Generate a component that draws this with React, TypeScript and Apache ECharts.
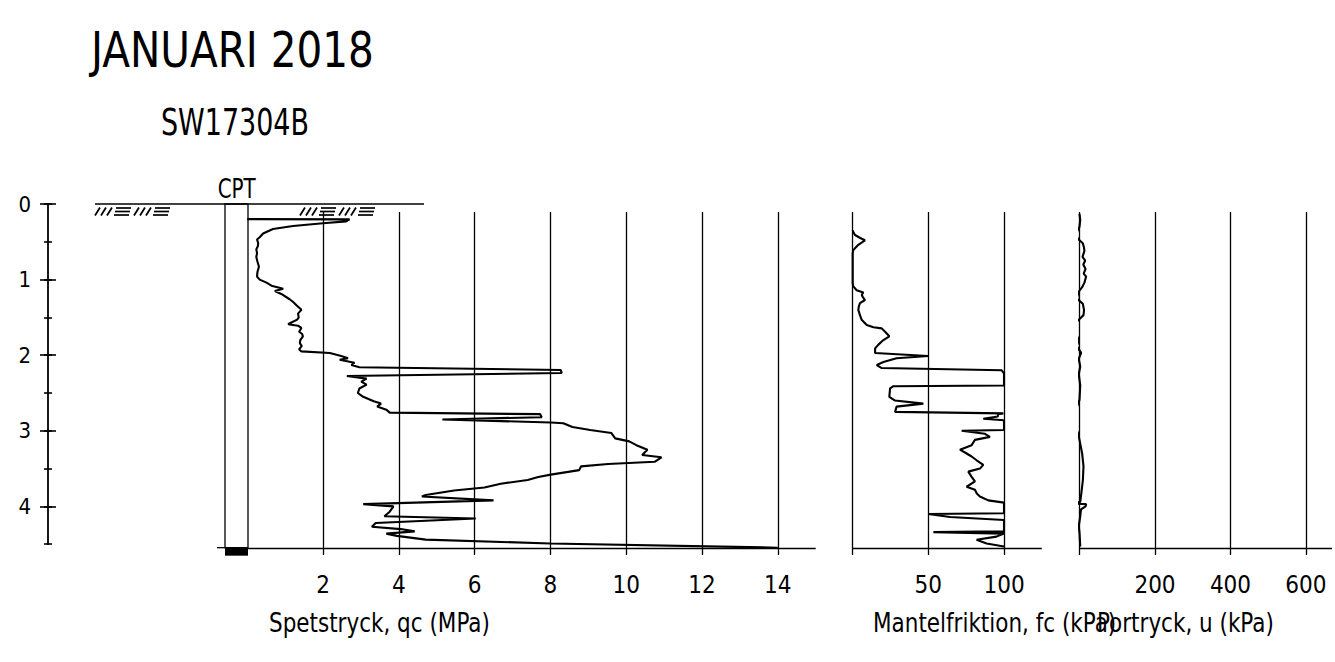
import React, { useEffect, useRef } from 'react';
import * as echarts from 'echarts';

const FONT = '"DejaVu Sans Condensed", "DejaVu Sans", sans-serif';

// ---- texts ----
const TITLE = 'JANUARI 2018';
const SUBTITLE = 'SW17304B';
const ROD_LABEL = 'CPT';
const QC_NAME = 'Spetstryck, qc (MPa)';
const FC_NAME = 'Mantelfriktion, fc (kPa)';
const U_NAME = 'Portryck, u (kPa)';

// ---- ticks / grid lines ----
const DEPTH_LABELS = [0, 1, 2, 3, 4];
const QC_TICKS = [2, 4, 6, 8, 10, 12, 14];
const FC_TICKS = [50, 100];
const U_TICKS = [200, 400, 600];
const QC_GRIDLINES = [2, 4, 6, 8, 10, 12, 14];
const FC_GRIDLINES = [0, 50, 100];
const U_GRIDLINES = [0, 200, 400, 600];

const END_DEPTH = 4.546;

// ---- data: [depth (m), value] ----
const qcProfile: [number, number][] = [
  [0.2, 0], [0.203, 2.7], [0.23, 2.61], [0.255, 2.0], [0.29, 1.21], [0.33, 0.68], [0.39, 0.42],
  [0.44, 0.33], [0.47, 0.26], [0.52, 0.29], [0.56, 0.28], [0.6, 0.24], [0.65, 0.26], [0.7, 0.24],
  [0.76, 0.27], [0.83, 0.31], [0.9, 0.27], [0.96, 0.26], [1.0, 0.33], [1.04, 0.51], [1.08, 0.64],
  [1.12, 0.95], [1.15, 0.73], [1.19, 0.9], [1.26, 1.12], [1.3, 1.22], [1.34, 1.3], [1.4, 1.43],
  [1.45, 1.34], [1.5, 1.36], [1.53, 1.32], [1.57, 1.15], [1.59, 1.08], [1.61, 1.34], [1.64, 1.43],
  [1.69, 1.37], [1.72, 1.45], [1.75, 1.47], [1.8, 1.4], [1.84, 1.39], [1.88, 1.44], [1.92, 1.37],
  [1.95, 1.43], [1.97, 2.18], [2.01, 2.48], [2.04, 2.66], [2.06, 2.44], [2.1, 2.83], [2.13, 2.75],
  [2.16, 2.96], [2.195, 8.27], [2.235, 8.3], [2.275, 2.63], [2.31, 3.15], [2.35, 3.01], [2.39, 3.15],
  [2.44, 2.96], [2.5, 2.92], [2.55, 3.06], [2.61, 3.34], [2.64, 3.53], [2.68, 3.43], [2.72, 3.67],
  [2.76, 3.76], [2.78, 7.73], [2.82, 7.77], [2.85, 5.15], [2.89, 8.01], [2.9, 8.34], [2.95, 8.58],
  [2.99, 9.05], [3.03, 9.61], [3.1, 9.71], [3.14, 10.08], [3.19, 10.27], [3.25, 10.56], [3.32, 10.42],
  [3.35, 10.93], [3.41, 10.75], [3.44, 9.52], [3.47, 8.81], [3.52, 8.76], [3.58, 8.01], [3.61, 7.68],
  [3.65, 7.4], [3.7, 6.69], [3.75, 6.26], [3.79, 5.46], [3.85, 4.71], [3.87, 4.61], [3.92, 6.5],
  [3.97, 3.06], [4.0, 3.86], [4.07, 3.76], [4.13, 3.62], [4.16, 6.03], [4.22, 3.39], [4.27, 3.29],
  [4.3, 4.05], [4.33, 4.42], [4.36, 3.67], [4.39, 3.95], [4.44, 4.71], [4.49, 8.0], [4.546, 14.0],
];

const fcProfile: [number, number][] = [
  [0.35, 0], [0.37, 0.4], [0.41, 1.5], [0.45, 5], [0.48, 8.1], [0.54, 3.7], [0.61, 0.4], [0.65, 0],
  [1.05, 0], [1.09, 0.4], [1.14, 2.6], [1.17, 7.0], [1.2, 6.0], [1.23, 6.6], [1.27, 8.1], [1.31, 4.8],
  [1.36, 4.0], [1.4, 3.7], [1.47, 4.8], [1.53, 5.9], [1.6, 9.3], [1.63, 13.7], [1.645, 19.2],
  [1.69, 21.4], [1.75, 24.2], [1.8, 20.3], [1.86, 17.0], [1.91, 14.8], [1.97, 14.8], [2.01, 50],
  [2.04, 29], [2.09, 20.3], [2.13, 15.9], [2.17, 19.2], [2.2, 98.5], [2.24, 100], [2.4, 100],
  [2.41, 26.9], [2.44, 24.7], [2.55, 24.2], [2.6, 28], [2.64, 46.7], [2.68, 29], [2.75, 28],
  [2.77, 99.6], [2.78, 96], [2.81, 96], [2.84, 86.3], [2.86, 100], [2.99, 100], [3.0, 72],
  [3.04, 87.4], [3.08, 90.7], [3.12, 80.8], [3.19, 78.6], [3.25, 70.9], [3.3, 75.3], [3.34, 78.6],
  [3.39, 81.9], [3.45, 86.3], [3.5, 84.1], [3.54, 76.4], [3.61, 78.6], [3.67, 80.8], [3.74, 75.3],
  [3.78, 80.8], [3.83, 82], [3.87, 84.1], [3.92, 89.6], [3.95, 100], [4.09, 100], [4.1, 50],
  [4.14, 64.3], [4.18, 100], [4.33, 100], [4.34, 53.3], [4.36, 100], [4.4, 95], [4.44, 81.9],
  [4.49, 88.5], [4.53, 100],
];

const uProfile: [number, number][] = [
  [0.13, 0], [0.21, 2], [0.3, 0], [0.37, -7], [0.43, -9], [0.48, 0], [0.52, 8.8], [0.58, 12],
  [0.62, 13], [0.7, 8], [0.75, 15], [0.8, 10], [0.86, 16], [0.92, 11], [0.96, 17.6], [1.04, 13],
  [1.1, 7], [1.16, -2], [1.25, -7], [1.32, 8.8], [1.4, 12], [1.47, 10.6], [1.53, -2], [1.6, -16],
  [1.64, -19], [1.71, -9], [1.8, -2], [1.88, -7], [1.97, 4.4], [2.05, -2], [2.15, 2], [2.25, -2],
  [2.4, 2], [2.59, 0], [2.7, -8], [2.77, -26], [2.79, -31], [2.84, -17.6], [2.95, -10.6],
  [3.03, -4], [3.12, 0], [3.3, 7], [3.47, 10.6], [3.65, 9], [3.82, 5], [3.94, 2], [3.96, -26],
  [3.97, 17.6], [4.0, 16], [4.04, 4], [4.13, 2], [4.26, -2], [4.35, 0], [4.53, 2],
];

// ---- layout ----
const Y0 = 204;
const PXM = 75.6;
const PANEL_TOP = 212;
const PANEL_BOTTOM = 555;
const QC_LEFT = 247.2, QC_PX = 37.9, QC_MAX = 15;
const FC_LEFT = 852.7, FC_PX = 1.513, FC_MAX = 125;
const U_LEFT = 1079.5, U_PX = 0.3817, U_MAX = 669;
const AXIS_X = 48;
const ROD_L = 225, ROD_R = 248;

function measure(text: string, size: number) {
  const ctx = document.createElement('canvas').getContext('2d');
  if (!ctx) return text.length * size * 0.5;
  ctx.font = `${size}px ${FONT}`;
  return ctx.measureText(text).width;
}

function fitText(text: string, left: number, cy: number, size: number, scale: number) {
  return {
    type: 'text', x: left, y: cy, scaleX: scale, z: 10,
    style: {
      text, x: 0, y: 0, fontSize: size, fontFamily: FONT, fill: '#000',
      textAlign: 'left', textVerticalAlign: 'middle', align: 'left', verticalAlign: 'middle',
    },
  };
}

function hatch(x0: number) {
  const els: any[] = [];
  const yb = 215.5, yt = 207.5;
  const st = { stroke: '#000', lineWidth: 1.7 };
  [0, 39].forEach((g) => {
    const gx = x0 + g;
    for (let i = 0; i < 3; i++) {
      els.push({ type: 'line', shape: { x1: gx + 6 * i, y1: yb, x2: gx + 6 * i + 5, y2: yt }, style: st });
    }
    [[yt + 0.5, 2], [211.5, 1], [yb - 0.5, 0]].forEach(([y, off]) => {
      els.push({ type: 'line', shape: { x1: gx + 19 + off, y1: y, x2: gx + 34 + off, y2: y }, style: st });
    });
  });
  return els;
}

const panelY = (gridIndex: number) => ({
  type: 'value', gridIndex, inverse: true, show: false,
  min: (PANEL_TOP - Y0) / PXM, max: (PANEL_BOTTOM - Y0) / PXM,
});

const panelX = (gridIndex: number, max: number, interval: number, labels: number[]) => ({
  type: 'value', gridIndex, min: 0, max, interval,
  axisLine: { show: false }, axisTick: { show: false }, splitLine: { show: false },
  axisLabel: {
    formatter: (v: number) => (labels.includes(v) ? String(v) : ''),
    fontSize: 24, fontFamily: FONT, color: '#000', margin: 18,
  },
});

const profileSeries = (idx: number, profile: [number, number][], gridlines: number[]) => ({
  type: 'line', xAxisIndex: idx, yAxisIndex: idx,
  data: profile.map(([d, v]) => [v, d]),
  showSymbol: false, symbol: 'none',
  lineStyle: { color: '#000', width: 2.1 },
  markLine: {
    silent: true, symbol: 'none', animation: false,
    label: { show: false },
    lineStyle: { color: '#000', width: 1.3, type: 'solid' },
    data: [...gridlines.map((g) => ({ xAxis: g })), { yAxis: END_DEPTH }],
  },
});

const depthY = (gridIndex: number, max: number, interval: number, inside: boolean, len: number, line: boolean, labels: boolean) => ({
  type: 'value', gridIndex, inverse: true, position: 'left', offset: 0,
  min: 0, max, interval,
  axisLine: { show: line, lineStyle: { color: '#000', width: 1.8 } },
  axisTick: { show: true, inside, length: len, lineStyle: { color: '#000', width: 1.6 } },
  splitLine: { show: false },
  axisLabel: labels
    ? { show: true, formatter: (v: number) => (DEPTH_LABELS.includes(v) ? String(v) : ''), fontSize: 22, fontFamily: FONT, color: '#000', margin: 17 }
    : { show: false },
});

export default function App() {
  const ref = useRef<HTMLDivElement>(null);
  useEffect(() => {
    if (!ref.current) return;
    const chart = echarts.init(ref.current, undefined, { renderer: 'svg' });

    const titleSize = 49.4;
    const titleScale = 283 / measure(TITLE, titleSize);
    const subSize = 36.6;
    const subScale = 148 / measure(SUBTITLE, subSize);
    const cptSize = 27;
    const cptScale = 38 / measure(ROD_LABEL, cptSize);
    const nameSize = 26;
    const nameScale = 221 / measure(QC_NAME, nameSize);
    const endY = Y0 + END_DEPTH * PXM;

    const option: any = {
      animation: false,
      backgroundColor: '#fff',
      grid: [
        { left: QC_LEFT, top: PANEL_TOP, width: QC_MAX * QC_PX, height: PANEL_BOTTOM - PANEL_TOP },
        { left: FC_LEFT, top: PANEL_TOP, width: FC_MAX * FC_PX, height: PANEL_BOTTOM - PANEL_TOP },
        { left: U_LEFT, top: PANEL_TOP, width: U_MAX * U_PX, height: PANEL_BOTTOM - PANEL_TOP },
        { left: AXIS_X, top: Y0, width: 20, height: 4.5 * PXM },
        { left: AXIS_X, top: Y0, width: 20, height: 4 * PXM },
      ],
      xAxis: [
        panelX(0, QC_MAX, 2, QC_TICKS),
        panelX(1, FC_MAX, 50, FC_TICKS),
        panelX(2, U_MAX, 200, U_TICKS),
        { type: 'value', gridIndex: 3, show: false, min: 0, max: 1 },
        { type: 'value', gridIndex: 4, show: false, min: 0, max: 1 },
      ],
      yAxis: [
        panelY(0), panelY(1), panelY(2),
        depthY(3, 4.5, 0.5, false, 4, true, false),
        depthY(3, 4.5, 0.5, true, 4, false, false),
        depthY(4, 4, 1, false, 8, false, true),
        depthY(4, 4, 1, true, 8, false, false),
      ],
      series: [
        profileSeries(0, qcProfile, QC_GRIDLINES),
        profileSeries(1, fcProfile, FC_GRIDLINES),
        profileSeries(2, uProfile, U_GRIDLINES),
      ],
      graphic: [
        fitText(TITLE, 91, 49.7, titleSize, titleScale),
        fitText(SUBTITLE, 161, 122.7, subSize, subScale),
        fitText(ROD_LABEL, 217.7, 188.3, cptSize, cptScale),
        fitText(QC_NAME, 269, 622.8, nameSize, nameScale),
        fitText(FC_NAME, 873, 622.8, nameSize, nameScale),
        fitText(U_NAME, 1097, 622.8, nameSize, nameScale),
        { type: 'line', z: 10, shape: { x1: 95, y1: Y0, x2: 424, y2: Y0 }, style: { stroke: '#000', lineWidth: 1.5 } },
        ...hatch(95).map((e) => ({ ...e, z: 10 })),
        ...hatch(300).map((e) => ({ ...e, z: 10 })),
        { type: 'rect', z: 10, shape: { x: ROD_L, y: Y0, width: ROD_R - ROD_L, height: endY - Y0 }, style: { fill: 'none', stroke: '#000', lineWidth: 1.3 } },
        { type: 'rect', z: 10, shape: { x: ROD_L, y: endY, width: ROD_R - ROD_L, height: 8 }, style: { fill: '#000' } },
        { type: 'line', z: 10, shape: { x1: 217, y1: endY, x2: QC_LEFT, y2: endY }, style: { stroke: '#000', lineWidth: 1.3 } },
      ],
    };
    chart.setOption(option);
    return () => chart.dispose();
  }, []);
  return <div ref={ref} style={{ position: 'absolute', left: 0, top: 0, width: 1335, height: 662 }} />;
}
